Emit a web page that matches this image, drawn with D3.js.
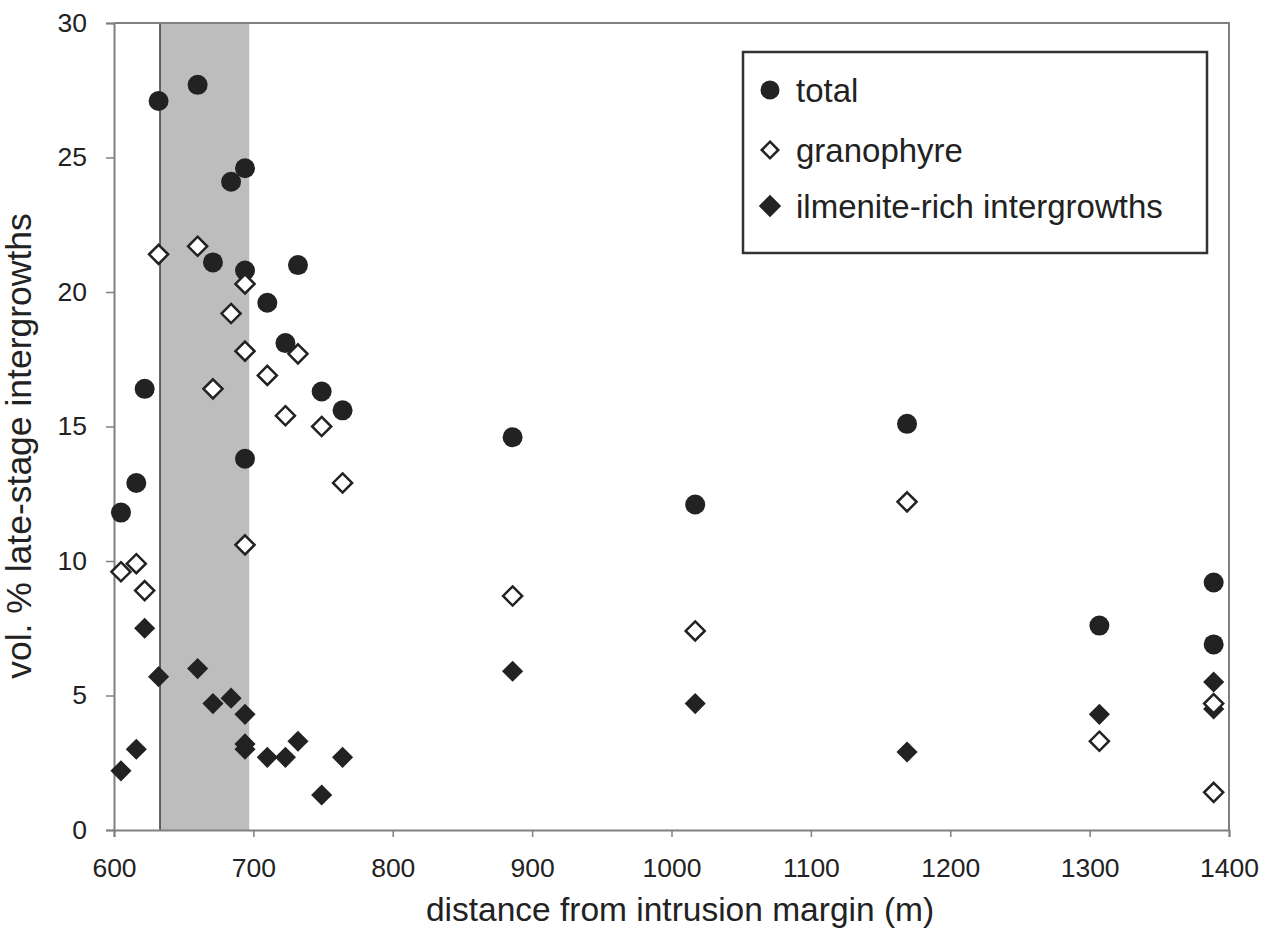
<!DOCTYPE html>
<html>
<head>
<meta charset="utf-8">
<script src="https://cdn.jsdelivr.net/npm/d3@7"></script>
<style>
    body { margin: 0; background: #fff; }
    svg { display: block; font-family: "Liberation Sans", Arial, sans-serif; }
</style>
</head>
<body>
<svg id="chart" width="1268" height="936"></svg>
<script>
// distance from intrusion margin (m), one entry per sample
let distances = [605, 616, 622, 632, 660, 671, 684, 694, 694, 694, 710, 723, 732, 749, 764, 886, 1017, 1169, 1307, 1389, 1389];
let totalValues = [11.8, 12.9, 16.4, 27.1, 27.7, 21.1, 24.1, 24.6, 20.8, 13.8, 19.6, 18.1, 21.0, 16.3, 15.6, 14.6, 12.1, 15.1, 7.6, 9.2, 6.9];
let granophyreValues = [9.6, 9.9, 8.9, 21.4, 21.7, 16.4, 19.2, 20.3, 17.8, 10.6, 16.9, 15.4, 17.7, 15.0, 12.9, 8.7, 7.4, 12.2, 3.3, 4.7, 1.4];
let ilmeniteValues = [2.2, 3.0, 7.5, 5.7, 6.0, 4.7, 4.9, 4.3, 3.0, 3.2, 2.7, 2.7, 3.3, 1.3, 2.7, 5.9, 4.7, 2.9, 4.3, 5.5, 4.5];

let xTicks = [600, 700, 800, 900, 1000, 1100, 1200, 1300, 1400];
let yTicks = [0, 5, 10, 15, 20, 25, 30];
let shadedZone = [633, 697];
let legendLabels = ["total", "granophyre", "ilmenite-rich intergrowths"];

let svg = d3.select("#chart");
let plotLeft = 114, plotRight = 1229, plotTop = 23, plotBottom = 830;

let xScale = d3.scaleLinear().domain([600, 1400]).range([plotLeft, plotRight]);
let yScale = d3.scaleLinear().domain([0, 30]).range([plotBottom, plotTop]);

// grey zone and its left boundary
svg.append("rect")
    .attr("x", xScale(shadedZone[0]))
    .attr("y", yScale(30))
    .attr("width", xScale(shadedZone[1]) - xScale(shadedZone[0]))
    .attr("height", yScale(0) - yScale(30))
    .attr("fill", "#bdbdbd");
svg.append("line")
    .attr("x1", xScale(shadedZone[0])).attr("x2", xScale(shadedZone[0]))
    .attr("y1", yScale(30)).attr("y2", yScale(0))
    .attr("stroke", "#3a3a3a").attr("stroke-width", 1.5);

// frame on top and right
svg.append("path")
    .attr("d", "M" + plotLeft + "," + plotTop + "H" + plotRight + "V" + plotBottom)
    .attr("fill", "none").attr("stroke", "#808080").attr("stroke-width", 2);

let xAxis = svg.append("g")
    .attr("transform", "translate(0," + plotBottom + ")")
    .call(d3.axisBottom(xScale).tickValues(xTicks).tickFormat(d3.format("d")).tickSize(7).tickPadding(21));
let yAxis = svg.append("g")
    .attr("transform", "translate(" + plotLeft + ",0)")
    .call(d3.axisLeft(yScale).tickValues(yTicks).tickSize(8).tickPadding(19));

for (let ax of [xAxis, yAxis]) {
    ax.select(".domain").attr("stroke", "#808080").attr("stroke-width", 2);
    ax.selectAll(".tick line").attr("stroke", "#808080").attr("stroke-width", 1.5);
    ax.selectAll("text").attr("fill", "#222").style("font-size", "26.5px");
}

svg.append("text")
    .attr("x", 680)
    .attr("y", 921)
    .attr("text-anchor", "middle")
    .attr("fill", "#222")
    .style("font-size", "33.5px")
    .text("distance from intrusion margin (m)");
svg.append("text")
    .attr("transform", "translate(31,446) rotate(-90)")
    .attr("text-anchor", "middle")
    .attr("fill", "#222")
    .style("font-size", "35.5px")
    .text("vol. % late-stage intergrowths");

let diamond = d3.symbol().type(d3.symbolDiamond2);

// total first, then the ilmenite diamonds, granophyre on top
svg.append("g").selectAll("circle")
    .data(distances)
    .enter().append("circle")
    .attr("cx", d => xScale(d))
    .attr("cy", (d, i) => yScale(totalValues[i]))
    .attr("r", 10)
    .attr("fill", "#222");

svg.append("g").selectAll("path")
    .data(distances)
    .enter().append("path")
    .attr("d", diamond.size(285)())
    .attr("transform", (d, i) => "translate(" + xScale(d) + "," + yScale(ilmeniteValues[i]) + ")")
    .attr("fill", "#222");

svg.append("g").selectAll("path")
    .data(distances)
    .enter().append("path")
    .attr("d", diamond.size(232)())
    .attr("transform", (d, i) => "translate(" + xScale(d) + "," + yScale(granophyreValues[i]) + ")")
    .attr("fill", "#fff")
    .attr("stroke", "#222")
    .attr("stroke-width", 2.5);

// legend
let legend = svg.append("g");
legend.append("rect")
    .attr("x", 743).attr("y", 52)
    .attr("width", 464).attr("height", 201)
    .attr("fill", "#fff").attr("stroke", "#333").attr("stroke-width", 2.5);

let rows = [90, 150, 206];
legend.append("circle").attr("cx", 770).attr("cy", rows[0]).attr("r", 9.5).attr("fill", "#222");
legend.append("path").attr("d", diamond.size(175)())
    .attr("transform", "translate(770," + rows[1] + ")")
    .attr("fill", "#fff").attr("stroke", "#222").attr("stroke-width", 2.5);
legend.append("path").attr("d", diamond.size(320)())
    .attr("transform", "translate(770," + rows[2] + ")")
    .attr("fill", "#222");

legend.selectAll("text")
    .data(legendLabels)
    .enter().append("text")
    .attr("x", 796)
    .attr("y", (d, i) => rows[i] + 11.5)
    .attr("fill", "#222")
    .style("font-size", "33px")
    .text(d => d);
</script>
</body>
</html>
